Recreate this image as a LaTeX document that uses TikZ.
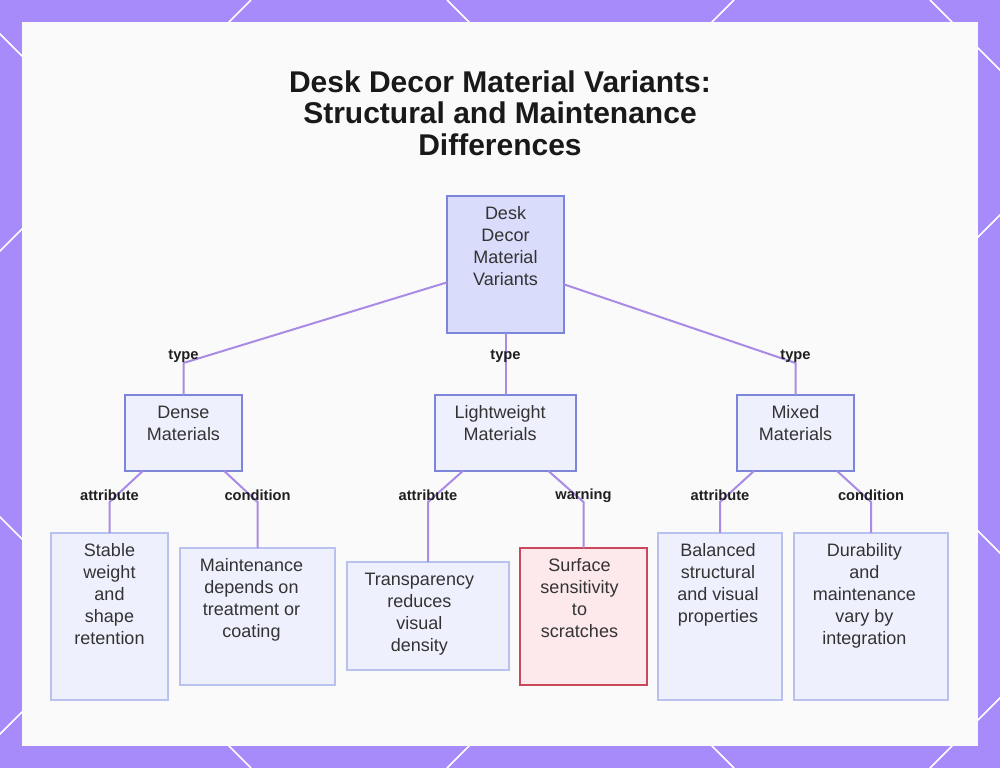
\documentclass[tikz,border=0pt]{standalone}
\usepackage{fontspec}
\setmainfont{Liberation Sans}
\usetikzlibrary{positioning,calc}
\definecolor{FramePurple}{HTML}{A78BFA}
\definecolor{PanelWhite}{HTML}{FAFAFA}
\definecolor{EdgePurple}{HTML}{A98BE6}
\definecolor{RootFill}{HTML}{D9DCFB}
\definecolor{RootLine}{HTML}{7C85D9}
\definecolor{MidFill}{HTML}{EEF0FD}
\definecolor{LeafLine}{HTML}{B9C2EE}
\definecolor{WarnFill}{HTML}{FDE8EC}
\definecolor{WarnLine}{HTML}{C9485B}
\definecolor{InkGray}{HTML}{333333}
\tikzset{
  edge/.style={draw=EdgePurple,line width=1.5pt},
  sz/.style 2 args={minimum width=#1*0.75pt,minimum height=#2*0.75pt,inner sep=0pt,outer sep=0pt},
  rootbox/.style={draw=RootLine,fill=RootFill,line width=1.1pt},
  midbox/.style={draw=RootLine,fill=MidFill,line width=1.1pt},
  leafbox/.style={draw=LeafLine,fill=MidFill,line width=1.1pt},
  warnbox/.style={draw=WarnLine,fill=WarnFill,line width=1.1pt},
  txt/.style={anchor=north,inner sep=0pt,align=center,text=InkGray,
    font=\fontsize{13.5}{16.5}\selectfont},
}
\tikzset{lab/.style={font=\bfseries\fontsize{11}{12}\selectfont,text=black!88,inner sep=0pt,yshift=5pt},
  title/.style={font=\bfseries\fontsize{22.5}{23.6}\selectfont,text=black!90,align=center}}

\begin{document}
\begin{tikzpicture}[x=0.75pt,y=-0.75pt]
\useasboundingbox (0,0) rectangle (1000,768);
% frame
\fill[FramePurple] (0,0) rectangle (1000,768);
\begin{scope}
\clip (0,0) rectangle (1000,768);
\foreach \c in {251,734,1215,1698} \draw[white,line width=1.1pt] (\c,0) -- ({\c-768},768);
\foreach \c in {-517,-34,447,930} \draw[white,line width=1.1pt] (\c,0) -- ({\c+768},768);
\end{scope}
\fill[PanelWhite] (22,22) rectangle (978,746);

\node[title] (title) at (500,113) {Desk Decor Material Variants:\\Structural and Maintenance\\Differences};

% boxes
\node[rootbox,sz={117}{137}] (root) at (505.5,264.5) {};
\node[midbox,sz={117}{76}] (dense) at (183.5,433) {};
\node[midbox,sz={141}{76}] (light) at (505.5,433) {};
\node[midbox,sz={117}{76}] (mixed) at (795.5,433) {};
\node[leafbox,sz={117}{167}] (stable) at (109.5,616.5) {};
\node[leafbox,sz={155}{137}] (maint) at (257.5,616.5) {};
\node[leafbox,sz={162}{108}] (transp) at (428,616) {};
\node[warnbox,sz={127}{137}] (surface) at (583.5,616.5) {};
\node[leafbox,sz={124}{167}] (balanced) at (720,616.5) {};
\node[leafbox,sz={154}{167}] (durab) at (871,616.5) {};

% texts
\node[txt] (root-t) at ([yshift=-8pt]root.north) {Desk\\Decor\\Material\\Variants};
\node[txt] (dense-t) at ([yshift=-8pt]dense.north) {Dense\\Materials};
\node[txt] (light-t) at ([xshift=-4pt,yshift=-8pt]light.north) {Lightweight\\Materials};
\node[txt] (mixed-t) at ([yshift=-8pt]mixed.north) {Mixed\\Materials};
\node[txt] (stable-t) at ([yshift=-8pt]stable.north) {Stable\\weight\\and\\shape\\retention};
\node[txt] (maint-t) at ([xshift=-4.5pt,yshift=-8pt]maint.north) {Maintenance\\depends on\\treatment or\\coating};
\node[txt] (transp-t) at ([xshift=-6.5pt,yshift=-8pt]transp.north) {Transparency\\reduces\\visual\\density};
\node[txt] (surface-t) at ([xshift=-3pt,yshift=-8pt]surface.north) {Surface\\sensitivity\\to\\scratches};
\node[txt] (balanced-t) at ([xshift=-1.5pt,yshift=-8pt]balanced.north) {Balanced\\structural\\and visual\\properties};
\node[txt] (durab-t) at ([xshift=-5pt,yshift=-8pt]durab.north) {Durability\\and\\maintenance\\vary by\\integration};

% connectors
\coordinate (lv1) at (0,363);
\coordinate (lv2) at (0,502);
\draw[edge] (root) -- (dense.north |- lv1) node[lab] (l1) {type} -- (dense);
\draw[edge] (root) -- (light.north |- lv1) node[lab] (l2) {type} -- (light);
\draw[edge] (root) -- (mixed.north |- lv1) node[lab] (l3) {type} -- (mixed);
\draw[edge] (dense) -- (stable.north |- lv2) node[lab] (l4) {attribute} -- (stable);
\draw[edge] (dense) -- (maint.north |- lv2) node[lab] (l5) {condition} -- (maint);
\draw[edge] (light) -- (transp.north |- lv2) node[lab] (l6) {attribute} -- (transp);
\draw[edge] (light) -- (surface.north |- lv2) node[lab] (l7) {warning} -- (surface);
\draw[edge] (mixed) -- (balanced.north |- lv2) node[lab] (l8) {attribute} -- (balanced);
\draw[edge] (mixed) -- (durab.north |- lv2) node[lab] (l9) {condition} -- (durab);
\end{tikzpicture}
\end{document}
